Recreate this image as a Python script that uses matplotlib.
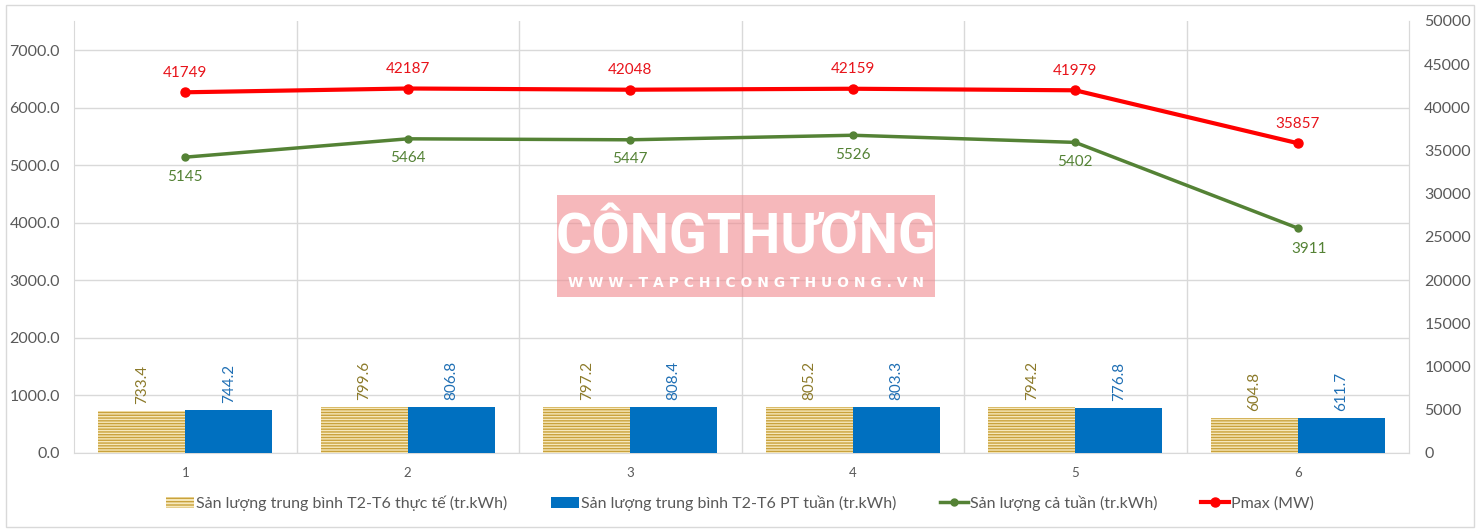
import matplotlib
matplotlib.use("Agg")
import matplotlib.pyplot as plt
from matplotlib.patches import Rectangle
from matplotlib.lines import Line2D
import numpy as np

plt.rcParams['font.family'] = ['Lato', 'DejaVu Sans']
plt.rcParams['hatch.linewidth'] = 1.0

categories = ["1", "2", "3", "4", "5", "6"]
actual_avg = [733.4, 799.6, 797.2, 805.2, 794.2, 604.8]
plan_avg = [744.2, 806.8, 808.4, 803.3, 776.8, 611.7]
week_total = [5145, 5464, 5447, 5526, 5402, 3911]
pmax = [41749, 42187, 42048, 42159, 41979, 35857]

legend_labels = [
    "Sản lượng trung bình T2-T6 thực tế (tr.kWh)",
    "Sản lượng trung bình T2-T6 PT tuần (tr.kWh)",
    "Sản lượng cả tuần (tr.kWh)",
    "Pmax (MW)",
]

W, H = 1480, 532
fig = plt.figure(figsize=(W / 100, H / 100), dpi=100)
fig.patch.set_facecolor("white")

# outer chart border
fig.add_artist(Rectangle((6 / W, 1 - 527 / H), 1468 / W, 522 / H, transform=fig.transFigure,
                         fill=False, edgecolor="#D9D9D9", linewidth=1))

L, R, T, B = 74, 1409, 21, 453
ax = fig.add_axes([L / W, 1 - B / H, (R - L) / W, (B - T) / H])
ax2 = ax.twinx()

x = np.arange(len(categories))
bw = 0.39
gold_c = "#C9A23C"
blue_c = "#0070C0"
green_c = "#548235"
red_c = "#FF0000"

ax.bar(x - bw / 2, actual_avg, width=bw, facecolor="#F6E8BC", edgecolor=gold_c,
       hatch="------", linewidth=0, zorder=3)
ax.bar(x + bw / 2, plan_avg, width=bw, color=blue_c, linewidth=0, zorder=3)
ax.plot(x, week_total, color=green_c, lw=2.5, marker="o", ms=5, zorder=4)

ax.set_xlim(-0.5, len(categories) - 0.5)
ax.set_ylim(0, 7513)
ax.set_yticks(np.arange(0, 7001, 1000))
ax.set_yticklabels([f"{v:.1f}" for v in np.arange(0, 7001, 1000)])
ax.set_xticks(x)
ax.set_xticklabels(categories)
ax.grid(axis="y", color="#D9D9D9", lw=1, zorder=0)
for b in np.arange(0.5, len(categories) - 0.5, 1):
    ax.axvline(b, color="#D9D9D9", lw=1, zorder=0)
ax.spines["top"].set_visible(False)
ax.spines["left"].set_color("#D9D9D9")
ax.spines["right"].set_color("#D9D9D9")
ax.spines["bottom"].set_color("#D9D9D9")
ax.tick_params(axis="y", length=0, labelsize=11.5, labelcolor="#595959", pad=10)
ax.tick_params(axis="x", length=0, labelsize=9.5, labelcolor="#595959", pad=10)

ax2.plot(x, pmax, color=red_c, lw=3, marker="o", ms=6.5, zorder=5)
ax2.set_ylim(0, 50000)
ax2.set_yticks(np.arange(0, 50001, 5000))
ax2.tick_params(axis="y", length=0, labelsize=11.5, labelcolor="#595959", pad=11)
for s in ["top", "left", "bottom"]:
    ax2.spines[s].set_visible(False)
ax2.spines["right"].set_color("#D9D9D9")

# labels
for i in range(len(categories)):
    ax.annotate(f"{actual_avg[i]:.1f}", (x[i] - bw / 2, actual_avg[i]), xytext=(0, 5),
                textcoords="offset points", rotation=90, ha="center", va="bottom",
                fontsize=11, color="#8C7A2A", zorder=6)
    ax.annotate(f"{plan_avg[i]:.1f}", (x[i] + bw / 2, plan_avg[i]), xytext=(0, 5),
                textcoords="offset points", rotation=90, ha="center", va="bottom",
                fontsize=11, color="#1F6FB4", zorder=6)
    if i == len(categories) - 1:
        ax.annotate(f"{week_total[i]}", (x[i], week_total[i]), xytext=(8, -10),
                    textcoords="offset points", ha="center", va="top",
                    fontsize=11, color=green_c, zorder=6)
    else:
        ax.annotate(f"{week_total[i]}", (x[i], week_total[i]), xytext=(0, -9),
                    textcoords="offset points", ha="center", va="top",
                    fontsize=11, color=green_c, zorder=6)
    ax2.annotate(f"{pmax[i]}", (x[i], pmax[i]), xytext=(0, 9),
                 textcoords="offset points", ha="center", va="bottom",
                 fontsize=11, color="#E8141B", zorder=6)

# watermark
fig.add_artist(Rectangle((557 / W, 1 - 297 / H), 378 / W, 102 / H, transform=fig.transFigure,
                         facecolor="#F08A8F", edgecolor="none", alpha=0.6, zorder=10))
fig.text(746 / W, 1 - 238 / H, "CÔNGTHƯƠNG", ha="center", va="center", fontsize=40,
         fontweight="bold", color="white", family=["Roboto", "DejaVu Sans"],
         zorder=11)
fig.text(746 / W, 1 - 283 / H, "W W W . T A P C H I C O N G T H U O N G . V N", ha="center",
         va="center", fontsize=10, fontweight="bold", color="white", family="DejaVu Sans",
         zorder=11)

# legend
handles = [
    Rectangle((0, 0), 1, 1, facecolor="#F6E8BC", edgecolor=gold_c, hatch="-----", linewidth=0),
    Rectangle((0, 0), 1, 1, facecolor=blue_c, linewidth=0),
    Line2D([], [], color=green_c, lw=2.5, marker="o", ms=5),
    Line2D([], [], color=red_c, lw=3, marker="o", ms=6.5),
]
fig.legend(handles, legend_labels, loc="center", bbox_to_anchor=(0.5, 1 - 503 / H), ncol=4,
           frameon=False, fontsize=11.5, labelcolor="#595959", handlelength=1.75,
           handletextpad=0.15, columnspacing=2.7)

fig.savefig("out.png", dpi=100)
